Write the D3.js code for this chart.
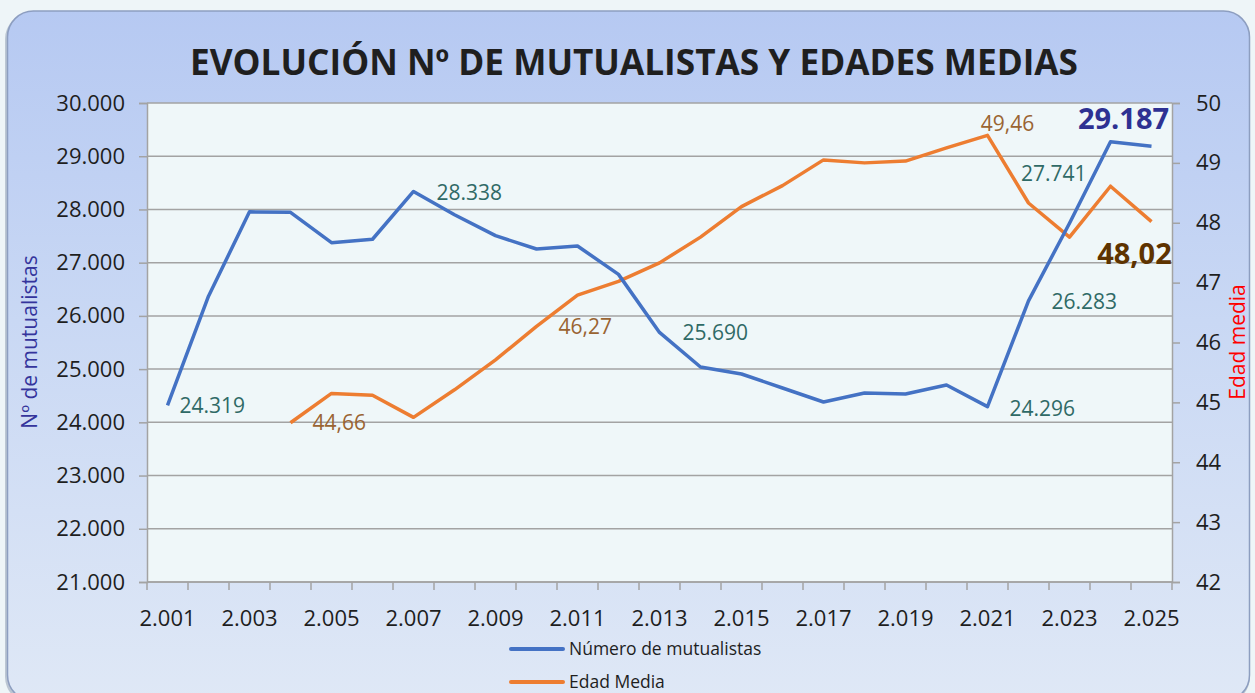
<!DOCTYPE html>
<html>
<head>
<meta charset="utf-8">
<script src="https://cdn.jsdelivr.net/npm/d3@7"></script>
<style>
    html, body { margin: 0; padding: 0; background: #eef5f8; }
    svg { display: block; font-family: "Open Sans", "Noto Sans", sans-serif; }
</style>
</head>
<body>
<div id="chart"></div>
<script>
var years = [2001, 2002, 2003, 2004, 2005, 2006, 2007, 2008, 2009, 2010, 2011, 2012, 2013,
    2014, 2015, 2016, 2017, 2018, 2019, 2020, 2021, 2022, 2023, 2024, 2025];
var mutualistas = [24319, 26370, 27955, 27945, 27375, 27440, 28338, 27900, 27507, 27257, 27313, 26780, 25690,
    25040, 24908, 24645, 24382, 24551, 24532, 24702, 24296, 26283, 27741, 29273, 29187];
// edad media empieza en 2004
var edadYears = [2004, 2005, 2006, 2007, 2008, 2009, 2010, 2011, 2012, 2013, 2014,
    2015, 2016, 2017, 2018, 2019, 2020, 2021, 2022, 2023, 2024, 2025];
var edadMedia = [44.66, 45.15, 45.12, 44.75, 45.21, 45.71, 46.27, 46.79, 47.02, 47.33, 47.76,
    48.27, 48.62, 49.05, 49.00, 49.03, 49.25, 49.46, 48.33, 47.76, 48.61, 48.02];
var leftTicks = [21000, 22000, 23000, 24000, 25000, 26000, 27000, 28000, 29000, 30000];
var rightTicks = [42, 43, 44, 45, 46, 47, 48, 49, 50];
var xTickYears = [2001, 2003, 2005, 2007, 2009, 2011, 2013, 2015, 2017, 2019, 2021, 2023, 2025];
var mutLabelYears = [2001, 2007, 2013, 2021, 2022, 2023, 2025];
var edadLabelYears = [2004, 2010, 2021, 2025];
var seriesNames = ["Número de mutualistas", "Edad Media"];

var width = 1255, height = 693;
var plot = {left: 147, right: 1172, top: 103, bottom: 582};

var fmtMiles = function(v){
    return d3.format(",")(v).replace(/,/g, ".");
};
var fmtYear = function(y){
    return fmtMiles(y);
};
var fmtEdad = function(v){
    return v.toFixed(2).replace(".", ",");
};

var svg = d3.select("#chart").append("svg")
    .attr("width", width)
    .attr("height", height);

var defs = svg.append("defs");
var grad = defs.append("linearGradient")
    .attr("id", "boxGrad")
    .attr("x1", 0).attr("y1", 0).attr("x2", 0).attr("y2", 1);
grad.append("stop").attr("offset", "0%").attr("stop-color", "#b6c9f2");
grad.append("stop").attr("offset", "45%").attr("stop-color", "#c9d8f4");
grad.append("stop").attr("offset", "100%").attr("stop-color", "#dfe8f6");

// caja redondeada
svg.append("rect")
    .attr("x", 5).attr("y", 13)
    .attr("width", 1245).attr("height", 690)
    .attr("rx", 26)
    .style("fill", "#9aa6bb")
    .style("opacity", 0.6);
svg.append("rect")
    .attr("x", 7.5).attr("y", 11)
    .attr("width", 1242).attr("height", 690)
    .attr("rx", 26)
    .style("fill", "url(#boxGrad)")
    .style("stroke", "#8d9ec0")
    .style("stroke-width", 1.5);

svg.append("rect")
    .attr("x", plot.left).attr("y", plot.top)
    .attr("width", plot.right - plot.left)
    .attr("height", plot.bottom - plot.top)
    .style("fill", "#eff7f9");

svg.append("text")
    .attr("x", 634)
    .attr("y", 75)
    .attr("text-anchor", "middle")
    .attr("textLength", 888)
    .attr("lengthAdjust", "spacingAndGlyphs")
    .style("font-size", "35px")
    .style("font-weight", "bold")
    .style("fill", "#1f1f1f")
    .text("EVOLUCIÓN Nº DE MUTUALISTAS Y EDADES MEDIAS");

// escalas
var x = d3.scaleBand()
    .domain(years)
    .range([plot.left, plot.right])
    .padding(0);
var yLeft = d3.scaleLinear().domain([21000, 30000]).range([plot.bottom, plot.top]);
var yRight = d3.scaleLinear().domain([42, 50]).range([plot.bottom, plot.top]);
var cx = function(yr){ return x(yr) + x.bandwidth() / 2; };

// rejilla
svg.append("g").selectAll("line")
    .data(leftTicks)
    .enter().append("line")
    .attr("x1", plot.left).attr("x2", plot.right)
    .attr("y1", function(d){ return yLeft(d); })
    .attr("y2", function(d){ return yLeft(d); })
    .style("stroke", "#a3a3a3")
    .style("stroke-width", 1.5);

// eje izquierdo
var leftAxis = svg.append("g")
    .attr("transform", "translate(" + plot.left + ",0)")
    .call(d3.axisLeft(yLeft).tickValues(leftTicks).tickSize(8).tickPadding(14).tickFormat(fmtMiles));
// eje derecho
var rightAxis = svg.append("g")
    .attr("transform", "translate(" + plot.right + ",0)")
    .call(d3.axisRight(yRight).tickValues(rightTicks).tickSize(8).tickPadding(16).tickFormat(d3.format("d")));
// eje x, marcas entre categorias
var xAxis = svg.append("g")
    .attr("transform", "translate(0," + plot.bottom + ")")
    .call(d3.axisBottom(x).tickValues(xTickYears).tickSize(0).tickPadding(28).tickFormat(fmtYear));
svg.append("g").selectAll("line")
    .data(d3.range(years.length + 1))
    .enter().append("line")
    .attr("x1", function(i){ return plot.left + i * x.bandwidth(); })
    .attr("x2", function(i){ return plot.left + i * x.bandwidth(); })
    .attr("y1", plot.bottom)
    .attr("y2", plot.bottom + 8)
    .style("stroke", "#a3a3a3")
    .style("stroke-width", 1.5);

[leftAxis, rightAxis, xAxis].forEach(function(ax){
    ax.selectAll(".domain").style("stroke", "#a3a3a3").style("stroke-width", 1.5);
    ax.selectAll(".tick line").style("stroke", "#a3a3a3").style("stroke-width", 1.5);
    ax.selectAll(".tick text")
        .style("font-size", "22px")
        .style("font-family", "'Open Sans', 'Noto Sans', sans-serif")
        .style("fill", "#1e1e1e");
});
xAxis.selectAll(".domain").attr("d", "M" + plot.left + ",0H" + plot.right);

// titulos de ejes
svg.append("text")
    .attr("transform", "translate(37,342) rotate(-90)")
    .attr("text-anchor", "middle")
    .style("font-size", "21px")
    .style("fill", "#34349c")
    .text("Nº de mutualistas");
svg.append("text")
    .attr("transform", "translate(1245,342) rotate(-90)")
    .attr("text-anchor", "middle")
    .style("font-size", "21px")
    .style("fill", "#ff0000")
    .text("Edad media");

// lineas
var mutData = years.map(function(yr, i){ return [yr, mutualistas[i]]; });
var edadData = edadYears.map(function(yr, i){ return [yr, edadMedia[i]]; });

svg.append("path")
    .datum(edadData)
    .attr("d", d3.line()
        .x(function(d){ return cx(d[0]); })
        .y(function(d){ return yRight(d[1]); }))
    .style("fill", "none")
    .style("stroke", "#ed7d31")
    .style("stroke-width", 3.5)
    .style("stroke-linejoin", "round");
svg.append("path")
    .datum(mutData)
    .attr("d", d3.line()
        .x(function(d){ return cx(d[0]); })
        .y(function(d){ return yLeft(d[1]); }))
    .style("fill", "none")
    .style("stroke", "#4472c4")
    .style("stroke-width", 3.5)
    .style("stroke-linejoin", "round");

// etiquetas de datos (desplazamiento respecto al punto)
var mutLabelPos = {
    2001: [12, 0, "start", false],
    2007: [23, 1, "start", false],
    2013: [23, 0, "start", false],
    2021: [22, 2, "start", false],
    2022: [23, 1, "start", false],
    2023: [17, -50, "end", false],
    2025: [-28, -27, "middle", true]
};
var edadLabelPos = {
    2004: [22, 0, "start", false],
    2010: [22, 0, "start", false],
    2021: [20, -12, "middle", false],
    2025: [-17, 32, "middle", true]
};

svg.append("g").selectAll("text")
    .data(mutLabelYears)
    .enter().append("text")
    .attr("x", function(yr){ return cx(yr) + mutLabelPos[yr][0]; })
    .attr("y", function(yr){ return yLeft(mutualistas[years.indexOf(yr)]) + mutLabelPos[yr][1]; })
    .attr("dy", "0.35em")
    .attr("text-anchor", function(yr){ return mutLabelPos[yr][2]; })
    .style("font-size", function(yr){ return mutLabelPos[yr][3] ? "29px" : "21px"; })
    .style("font-weight", function(yr){ return mutLabelPos[yr][3] ? "bold" : "normal"; })
    .style("fill", function(yr){ return mutLabelPos[yr][3] ? "#2e3192" : "#2f6a66"; })
    .text(function(yr){ return fmtMiles(mutualistas[years.indexOf(yr)]); });

svg.append("g").selectAll("text")
    .data(edadLabelYears)
    .enter().append("text")
    .attr("x", function(yr){ return cx(yr) + edadLabelPos[yr][0]; })
    .attr("y", function(yr){ return yRight(edadMedia[edadYears.indexOf(yr)]) + edadLabelPos[yr][1]; })
    .attr("dy", "0.35em")
    .attr("text-anchor", function(yr){ return edadLabelPos[yr][2]; })
    .style("font-size", function(yr){ return edadLabelPos[yr][3] ? "29px" : "21px"; })
    .style("font-weight", function(yr){ return edadLabelPos[yr][3] ? "bold" : "normal"; })
    .style("fill", function(yr){ return edadLabelPos[yr][3] ? "#5e3300" : "#9a6432"; })
    .text(function(yr){ return fmtEdad(edadMedia[edadYears.indexOf(yr)]); });

// leyenda
var legendColors = ["#4472c4", "#ed7d31"];
var legend = svg.append("g").selectAll("g")
    .data(seriesNames)
    .enter().append("g")
    .attr("transform", function(d, i){ return "translate(511," + (649 + i * 33) + ")"; });
legend.append("line")
    .attr("x1", 0).attr("x2", 52)
    .style("stroke", function(d, i){ return legendColors[i]; })
    .style("stroke-width", 4)
    .style("stroke-linecap", "round");
legend.append("text")
    .attr("x", 58)
    .attr("dy", "0.35em")
    .style("font-size", "17.5px")
    .style("fill", "#1e1e1e")
    .text(function(d){ return d; });
</script>
</body>
</html>
